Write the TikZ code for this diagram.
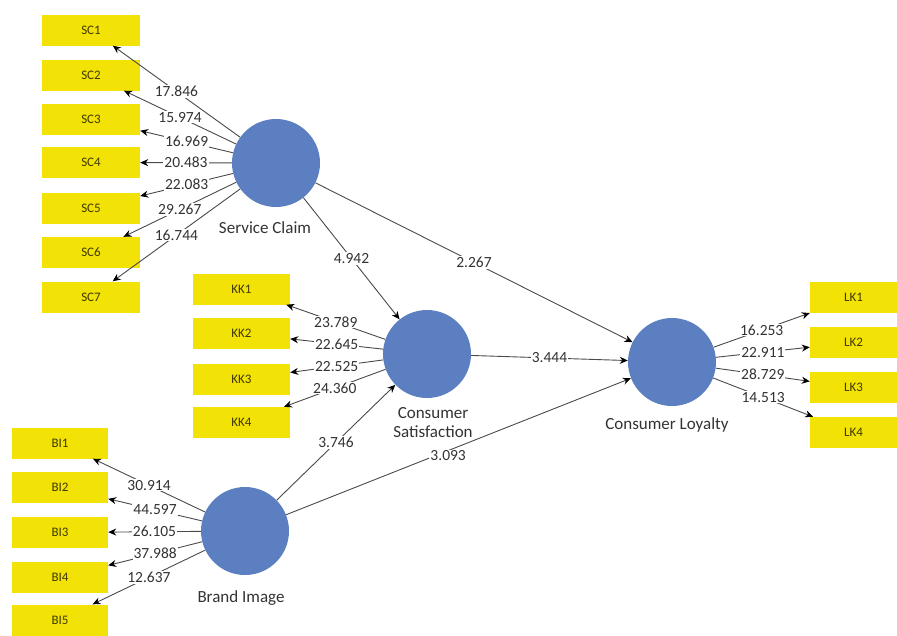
\documentclass[tikz,border=0pt]{standalone}
\usepackage{fontspec}
\setmainfont{Carlito}
\usetikzlibrary{arrows.meta}
\definecolor{boxyellow}{HTML}{F2E205}
\definecolor{boxtext}{HTML}{3F3A00}
\definecolor{lvblue}{HTML}{5B7FC0}
\definecolor{linegray}{HTML}{4A4A4A}
\definecolor{txtgray}{HTML}{333333}
\begin{document}
\begin{tikzpicture}[x=1pt,y=-1pt,
  ind/.style={fill=boxyellow, minimum width=98pt, minimum height=31pt, inner sep=0pt,
    font=\fontsize{13}{13}\selectfont, text=boxtext},
  lv/.style={circle, fill=lvblue, minimum size=88pt, inner sep=0pt},
  lvlabel/.style={fill=white, inner sep=1pt, font=\fontsize{17}{19}\selectfont, text=txtgray, align=center},
  load/.style={draw=linegray, line width=0.9pt, -{Stealth[length=8pt,width=7pt,color=black]}},
  coef/.style={fill=white, inner sep=1pt, font=\fontsize{15.5}{15.5}\selectfont, text=txtgray},
]
\useasboundingbox (0,0) rectangle (897,635);

% indicator boxes
\node[ind] (sc1) at (91,30) {SC1};
\node[ind] (sc2) at (91,75) {SC2};
\node[ind] (sc3) at (91,119) {SC3};
\node[ind] (sc4) at (91,162.5) {SC4};
\node[ind] (sc5) at (91,208) {SC5};
\node[ind] (sc6) at (91,252.5) {SC6};
\node[ind] (sc7) at (91,297) {SC7};

\node[ind, minimum width=97pt] (kk1) at (241.5,289) {KK1};
\node[ind, minimum width=97pt] (kk2) at (241.5,333.5) {KK2};
\node[ind, minimum width=97pt] (kk3) at (241.5,379) {KK3};
\node[ind, minimum width=97pt] (kk4) at (241.5,422.5) {KK4};

\node[ind, minimum width=87pt] (lk1) at (853.5,297.5) {LK1};
\node[ind, minimum width=87pt] (lk2) at (853.5,342.5) {LK2};
\node[ind, minimum width=87pt] (lk3) at (853.5,387.5) {LK3};
\node[ind, minimum width=87pt] (lk4) at (853.5,432.5) {LK4};

\node[ind, minimum width=96pt] (bi1) at (60,443) {BI1};
\node[ind, minimum width=96pt] (bi2) at (60,487.5) {BI2};
\node[ind, minimum width=96pt] (bi3) at (60,532.5) {BI3};
\node[ind, minimum width=96pt] (bi4) at (60,577.5) {BI4};
\node[ind, minimum width=96pt] (bi5) at (60,620) {BI5};

% latent variables
\node[lv] (SC) at (276,163) {};
\node[lv] (CS) at (427,354) {};
\node[lv] (CL) at (672,362) {};
\node[lv] (BI) at (245,531) {};

% outer loadings
\draw[load] (SC) -- node[coef]{17.846} (sc1);
\draw[load] (SC) -- node[coef]{15.974} (sc2);
\draw[load] (SC) -- node[coef]{16.969} (sc3);
\draw[load] (SC) -- node[coef]{20.483} (sc4);
\draw[load] (SC) -- node[coef]{22.083} (sc5);
\draw[load] (SC) -- node[coef]{29.267} (sc6);
\draw[load] (SC) -- node[coef]{16.744} (sc7);

\draw[load] (CS) -- node[coef]{23.789} (kk1);
\draw[load] (CS) -- node[coef]{22.645} (kk2);
\draw[load] (CS) -- node[coef]{22.525} (kk3);
\draw[load] (CS) -- node[coef]{24.360} (kk4);

\draw[load] (CL) -- node[coef]{16.253} (lk1);
\draw[load] (CL) -- node[coef]{22.911} (lk2);
\draw[load] (CL) -- node[coef]{28.729} (lk3);
\draw[load] (CL) -- node[coef]{14.513} (lk4);

\draw[load] (BI) -- node[coef]{30.914} (bi1);
\draw[load] (BI) -- node[coef]{44.597} (bi2);
\draw[load] (BI) -- node[coef]{26.105} (bi3);
\draw[load] (BI) -- node[coef]{37.988} (bi4);
\draw[load] (BI) -- node[coef]{12.637} (bi5);

% inner model
\draw[load] (SC) -- node[coef]{4.942} (CS);
\draw[load] (SC) -- node[coef]{2.267} (CL);
\draw[load] (CS) -- node[coef]{3.444} (CL);
\draw[load] (BI) -- node[coef]{3.746} (CS);
\draw[load] (BI) -- node[coef, pos=0.47, yshift=-5pt]{3.093} (CL);

% latent labels
\node[lvlabel] (lSC) at (265,228) {Service Claim};
\node[lvlabel] (lCS) at (433,423) {Consumer\\Satisfaction};
\node[lvlabel] (lCL) at (667,425) {Consumer Loyalty};
\node[lvlabel] (lBI) at (241,598) {Brand Image};
\end{tikzpicture}
\end{document}
